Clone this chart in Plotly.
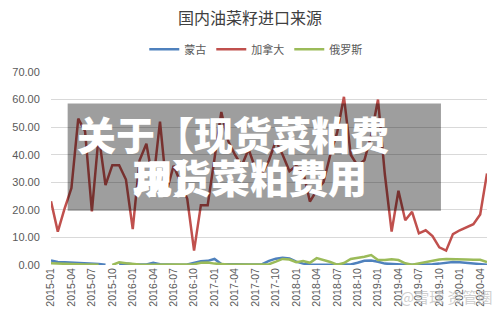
import plotly.graph_objects as go
import pandas as pd

months = [d.strftime("%Y-%m") for d in pd.date_range("2015-01-01", "2020-05-01", freq="MS")]
tick_labels = months[::3]

mongolia = [1.6, 1.1, 1.0, 0.9, 0.7, 0.6, 0.5, 0.4, 0.1, None,
            0.3, 0.5, 0.3, 0.2, 0.2, 0.8, 0.3, 0.2, 0.1, 0.1,
            0.2, 0.8, 1.4, 1.5, 2.2, 0.4, 0.3, 0.2, 0.2, 0.2,
            0.2, 0.3, 1.5, 2.3, 2.6, 2.4, 1.2, 0.5, 0.2, 0.1,
            0.1, 0.1, 0.2, 0.2, 0.2, 0.8, 1.5, 1.6, 1.2, 0.5,
            0.3, 0.1, 0.1, 0.1, 0.1, 0.1, 0.3, 0.5, 0.8, 1.1,
            1.0, 0.8, 0.6, 0.3, 0.1]
canada = [23.1, 12.1, 20.5, 27.9, 53.1, 48.5, 19.4, 47.0, 29.0, 36.2,
          36.2, 31.0, 13.0, 38.0, 44.0, 30.0, 52.0, 27.0, 36.0, 30.0,
          24.0, 5.2, 21.7, 21.7, 38.0, 55.5, 45.0, 40.0, 36.0, 42.0,
          35.0, 33.0, 38.0, 45.0, 40.0, 34.0, 36.0, 34.0, 23.0, 27.0,
          30.0, 40.0, 48.0, 61.0, 40.0, 36.0, 38.0, 47.0, 60.0, 33.0,
          12.1, 26.9, 16.2, 19.3, 11.5, 12.6, 10.5, 6.4, 5.2, 11.2,
          12.6, 13.8, 14.8, 18.3, 33.2]
russia = [0.6, 0.5, 0.3, 0.2, 0.2, 0.2, 0.2, 0.1, None, 0.0,
          1.0, 0.6, 0.3, 0.2, 0.1, 0.1, 0.1, 0.1, 0.1, 0.1,
          0.1, 0.3, 0.8, 0.9, 0.5, 0.3, 0.2, 0.2, 0.2, 0.2,
          0.2, 0.1, 0.3, 1.2, 2.2, 2.0, 1.0, 1.4, 0.8, 2.5,
          1.8, 1.1, 0.1, 0.7, 2.2, 2.5, 3.0, 3.6, 1.8, 1.8,
          2.1, 1.8, 0.6, 0.1, 0.6, 1.2, 1.7, 2.0, 2.2, 2.2,
          2.1, 2.0, 1.9, 1.9, 1.1]

series = [("蒙古", mongolia, "#4F81BD"), ("加拿大", canada, "#C0504D"), ("俄罗斯", russia, "#9BBB59")]

W, H = 500, 319
L, R, T, B = 42, 487, 72, 268  # plot area pixels


def px(x):
    return (x - L) / (R - L)


def py(y):
    return (B - y) / (B - T)


fig = go.Figure()
for name, vals, color in series:
    fig.add_trace(go.Scatter(x=months, y=vals, name=name, mode="lines",
                             line=dict(color=color, width=2.5), connectgaps=False))

font_cjk = "Noto Sans CJK SC"
fig.update_layout(
    width=W, height=H,
    margin=dict(l=L, r=W - R, t=T, b=H - B, pad=0),
    paper_bgcolor="white", plot_bgcolor="white",
    title=dict(text="国内油菜籽进口来源", x=0.5, xanchor="center", y=1 - 18 / H, yanchor="middle",
               font=dict(family=font_cjk, size=16, color="#404040")),
    legend=dict(orientation="h", x=px(251), xanchor="center", y=py(49), yanchor="middle",
                font=dict(family=font_cjk, size=11, color="#595959"), itemwidth=30,
                bgcolor="rgba(0,0,0,0)", tracegroupgap=0),
    showlegend=True,
    font=dict(family="Liberation Sans, Arial", color="#595959"),
)
fig.update_xaxes(type="category", categoryorder="array", categoryarray=months,
                 tickmode="array", tickvals=tick_labels, ticktext=tick_labels,
                 tickangle=-90, tickfont=dict(size=10.5, color="#595959"),
                 showgrid=False, showline=False, ticks="", zeroline=False)
fig.update_yaxes(range=[0, 70], dtick=10, tickformat=".2f", showgrid=True,
                 gridcolor="#D9D9D9", gridwidth=1, zeroline=False, showline=False,
                 tickfont=dict(size=11, color="#595959"), ticks="outside",
                 ticklen=8, tickcolor="rgba(0,0,0,0)")

# translucent overlay box with text
fig.add_shape(type="rect", xref="paper", yref="paper", x0=px(59), x1=px(440), y0=py(213), y1=py(104),
              fillcolor="rgba(0,0,0,0.38)", line=dict(width=0), layer="above")
fig.add_annotation(xref="paper", yref="paper", x=px(67), y=py(134), xanchor="left", yanchor="middle",
                   text="关于【现货菜粕费", showarrow=False,
                   font=dict(family=font_cjk, size=39, color="white", weight=900))
fig.add_annotation(xref="paper", yref="paper", x=px(124), y=py(178), xanchor="left", yanchor="middle",
                   text="用】", showarrow=False,
                   font=dict(family=font_cjk, size=39, color="white", weight=900))
fig.add_annotation(xref="paper", yref="paper", x=px(124), y=py(178), xanchor="left", yanchor="middle",
                   text="现货菜粕费用", showarrow=False,
                   font=dict(family=font_cjk, size=39, color="white", weight=900))
fig.add_annotation(xref="paper", yref="paper", x=px(495), y=py(300), xanchor="right", yanchor="middle",
                   text="@雪球 资管圈", showarrow=False,
                   font=dict(family=font_cjk, size=15, color="rgba(190,190,190,0.75)"))

fig.write_html("out.html")
